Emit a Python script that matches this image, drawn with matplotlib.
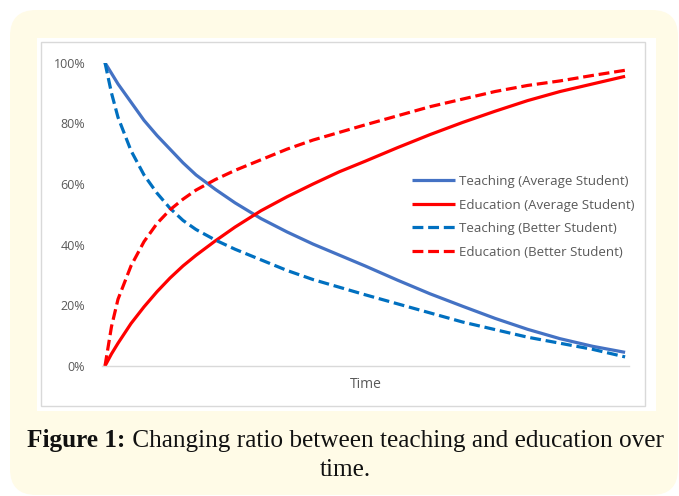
import matplotlib
matplotlib.use("Agg")
import matplotlib.pyplot as plt
from matplotlib.patches import FancyBboxPatch, Rectangle

# ---- data ----
time = [0, 1, 2, 4, 6, 8, 10, 12, 14, 17, 20, 24, 28, 32, 36, 40, 45, 50, 55, 60, 65, 70, 75, 80]
teach_avg = [100, 96.5, 93, 87, 81, 76, 71.5, 67, 63, 58.2, 53.8, 48.6, 44.2, 40.2, 36.6, 33,
             28.3, 23.8, 19.7, 15.7, 12.1, 9, 6.5, 4.5]
edu_avg = [0, 4, 7.5, 14, 19.5, 24.5, 29, 33, 36.5, 41.3, 45.8, 51.2, 55.8, 60, 64, 67.5, 72,
           76.3, 80.3, 84, 87.5, 90.5, 93, 95.5]
teach_better = [100, 90, 82, 71, 63, 57, 52, 48, 45, 41.5, 38.5, 35, 31.5, 28.5, 26, 23.5,
                20.5, 17.5, 14.5, 12, 9.5, 7.5, 5.5, 3]
edu_better = [0, 13, 22, 33, 41, 47, 51.5, 55, 58, 61.5, 64.5, 68, 71.5, 74.5, 77, 79.5, 82.5,
              85.5, 88, 90.5, 92.5, 94, 95.8, 97.5]
labels = ["Teaching (Average Student)", "Education (Average Student)",
          "Teaching (Better Student)", "Education (Better Student)"]
yticks = [0, 20, 40, 60, 80, 100]
xlabel = "Time"
caption_bold = "Figure 1:"
caption_rest = " Changing ratio between teaching and education over"
caption_line2 = "time."

W, H = 679, 496
fig = plt.figure(figsize=(W / 100, H / 100), dpi=100)
fig.patch.set_facecolor("white")

# background axes in pixel coordinates (y down)
bg = fig.add_axes([0, 0, 1, 1], zorder=0)
bg.set_xlim(0, W)
bg.set_ylim(H, 0)
bg.axis("off")
bg.add_patch(FancyBboxPatch((10, 10), 668, 485, boxstyle="round,pad=0,rounding_size=26",
                            facecolor="#FFFBE7", edgecolor="none"))
bg.add_patch(Rectangle((37, 38), 619, 373, facecolor="white", edgecolor="none"))
bg.add_patch(Rectangle((41, 42), 604, 364, facecolor="none", edgecolor="#D9D9D9", lw=1.0))

# chart axes
ax_left, ax_right = 102, 629
y0px, y100px = 366, 62.7
ax = fig.add_axes([ax_left / W, 1 - y0px / H, (ax_right - ax_left) / W, (y0px - y100px) / H],
                  zorder=1)
ax.patch.set_alpha(0)
ax.set_ylim(0, 100)
ax.set_xlim(-0.46, 80.6)

lw = 2.3
ax.plot(time, teach_avg, color="#4472C4", lw=lw, label=labels[0], solid_capstyle="butt",
        solid_joinstyle="round")
ax.plot(time, edu_avg, color="#FF0000", lw=lw, label=labels[1], solid_capstyle="butt",
        solid_joinstyle="round")
ax.plot(time, teach_better, color="#0070C0", lw=lw, ls=(0, (3.4, 1.5)), label=labels[2])
ax.plot(time, edu_better, color="#FF0000", lw=lw, ls=(0, (3.4, 1.5)), label=labels[3])

for s in ["top", "right", "left"]:
    ax.spines[s].set_visible(False)
ax.spines["bottom"].set_color("#D9D9D9")
ax.spines["bottom"].set_linewidth(1.0)
ax.set_xticks([])
ax.set_yticks(yticks)
ax.set_yticklabels([f"{v}%" for v in yticks])
ax.tick_params(axis="y", length=0, pad=12, labelsize=9, labelcolor="#595959")
for t in ax.get_yticklabels():
    t.set_fontfamily("Open Sans")

bg.text(365.5, 384, xlabel, ha="center", va="center", fontsize=10, color="#595959",
        family="Open Sans")

leg = ax.legend(loc="upper left", bbox_to_anchor=(412 / W, 1 - 175 / H),
                bbox_transform=fig.transFigure, frameon=False, borderpad=0, borderaxespad=0,
                handlelength=3.25, handletextpad=0.3, labelspacing=0.8,
                prop={"family": "Open Sans", "size": 9.5})
for t in leg.get_texts():
    t.set_color("#595959")

# caption
fig.canvas.draw()
r = fig.canvas.get_renderer()
fs = 16
tb = bg.text(0, 0, caption_bold, fontsize=fs, fontweight="bold", family="Liberation Serif",
             ha="left", va="center", color="#111111")
tr = bg.text(0, 0, caption_rest, fontsize=fs, family="Liberation Serif", ha="left",
             va="center", color="#111111")
wb = tb.get_window_extent(r).width
wr = tr.get_window_extent(r).width
scale = 637.0 / (wb + wr)
fs2 = fs * scale
tb.set_fontsize(fs2)
tr.set_fontsize(fs2)
fig.canvas.draw()
wb = tb.get_window_extent(r).width
wr = tr.get_window_extent(r).width
x0 = 345.5 - (wb + wr) / 2
tb.set_position((x0, 441))
tr.set_position((x0 + wb, 441))
bg.text(345.5, 470, caption_line2, fontsize=fs2, family="Liberation Serif", ha="center",
        va="center", color="#111111")

fig.savefig("out.png", dpi=100, facecolor="white")
